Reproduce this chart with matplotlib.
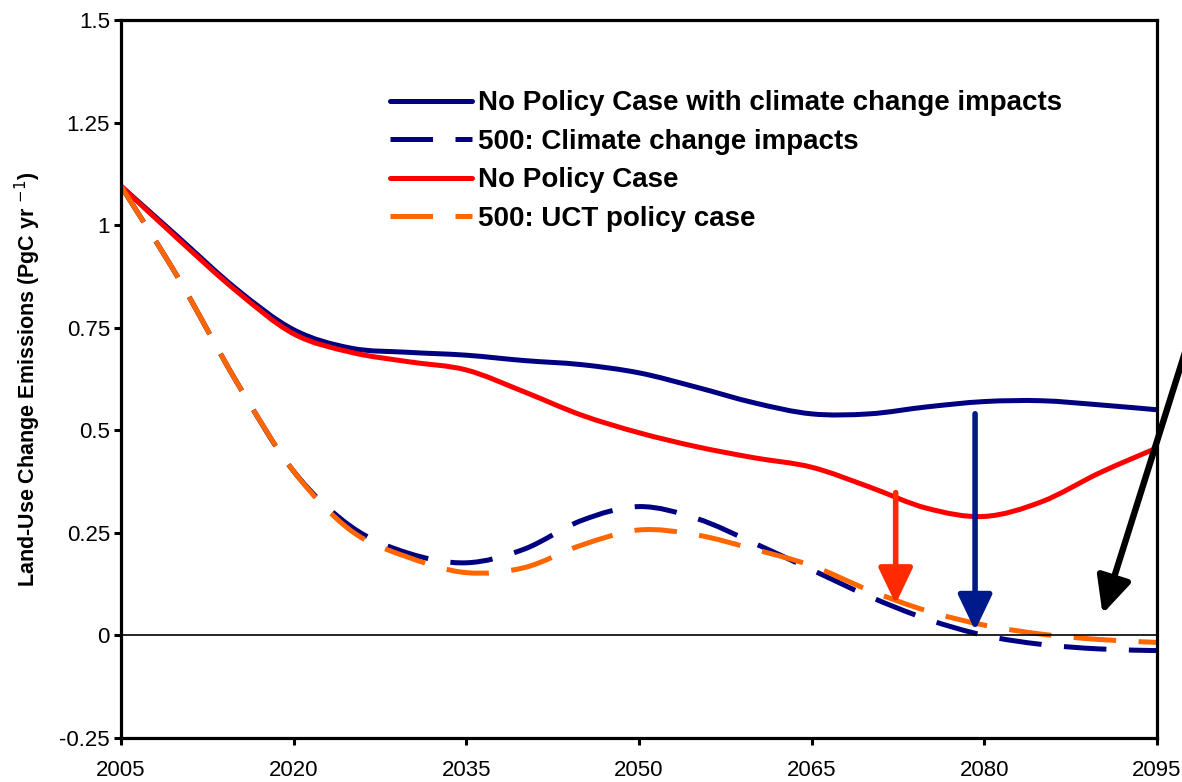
import matplotlib
matplotlib.use("Agg")
import matplotlib.pyplot as plt
import numpy as np
from matplotlib.path import Path
from matplotlib.patches import PathPatch
from matplotlib.lines import Line2D

# ---------- DATA ----------
years = [2005, 2010, 2015, 2020, 2025, 2030, 2035, 2040, 2045, 2050,
         2055, 2060, 2065, 2070, 2075, 2080, 2085, 2090, 2095]

no_policy_cc = [1.095, 0.97, 0.845, 0.745, 0.70, 0.69, 0.683, 0.67, 0.66, 0.64,
                0.605, 0.567, 0.54, 0.54, 0.557, 0.570, 0.572, 0.562, 0.55]
cc_500 = [1.095, 0.87, 0.62, 0.40, 0.265, 0.20, 0.177, 0.21, 0.28, 0.314,
          0.285, 0.225, 0.16, 0.095, 0.04, 0.0, -0.022, -0.033, -0.037]
no_policy = [1.095, 0.965, 0.84, 0.735, 0.69, 0.667, 0.647, 0.594, 0.537, 0.494,
             0.46, 0.433, 0.41, 0.362, 0.31, 0.29, 0.326, 0.396, 0.457]
uct_500 = [1.095, 0.87, 0.62, 0.40, 0.255, 0.19, 0.153, 0.165, 0.22, 0.257,
           0.245, 0.21, 0.17, 0.11, 0.06, 0.025, 0.003, -0.01, -0.017]

labels = ["No Policy Case with climate change impacts",
          "500: Climate change impacts",
          "No Policy Case",
          "500: UCT policy case"]

xticks = [2005, 2020, 2035, 2050, 2065, 2080, 2095]
yticks = [-0.25, 0, 0.25, 0.5, 0.75, 1, 1.25, 1.5]
ytick_labels = ["-0.25", "0", "0.25", "0.5", "0.75", "1", "1.25", "1.5"]

plt.rcParams["font.family"] = ["Liberation Sans", "DejaVu Sans"]

NAVY = "#000080"
RED = "#FF0000"
ORANGE = "#FF6600"
LW = 3.6
DASH = (0, (8.5, 4.5))


def smooth_path(x, y):
    # excel-style smoothed line: catmull-rom segments drawn as cubic beziers
    pts = np.column_stack([x, y]).astype(float)
    n = len(pts)
    verts = [pts[0]]
    codes = [Path.MOVETO]
    for i in range(n - 1):
        p0 = pts[i - 1] if i > 0 else pts[i]
        p1, p2 = pts[i], pts[i + 1]
        p3 = pts[i + 2] if i + 2 < n else pts[i + 1]
        c1 = p1 + (p2 - p0) / 6
        c2 = p2 - (p3 - p1) / 6
        verts += [c1, c2, p2]
        codes += [Path.CURVE4] * 3
    return Path(verts, codes)


fig = plt.figure(figsize=(11.82, 7.82), dpi=100)
ax = fig.add_axes([0.1024, 0.0563, 0.8764, 0.9181])

series = [(no_policy_cc, NAVY, "-"), (cc_500, NAVY, DASH),
          (no_policy, RED, "-"), (uct_500, ORANGE, DASH)]
handles = []
for vals, col, ls in series:
    patch = PathPatch(smooth_path(years, vals), facecolor="none", edgecolor=col,
                      lw=LW, linestyle=ls, capstyle="butt", joinstyle="round")
    ax.add_patch(patch)
    handles.append(Line2D([], [], color=col, lw=LW, linestyle=ls,
                          solid_capstyle="round", dash_capstyle="butt"))

ax.axhline(0, color="black", lw=1.2, zorder=1)

# arrows
head = "-|>,head_length=2.2,head_width=1.05"
ax.annotate("", xy=(2072.3, 0.07), xytext=(2072.3, 0.355),
            arrowprops=dict(arrowstyle=head, color="#FF2A00", lw=4))
ax.annotate("", xy=(2079.2, 0.005), xytext=(2079.2, 0.547),
            arrowprops=dict(arrowstyle=head, color="#001A8C", lw=4))
ax.annotate("", xy=(2090.2, 0.046), xytext=(2099.8, 0.90),
            arrowprops=dict(arrowstyle=head, color="black", lw=4.6),
            annotation_clip=False)

ax.set_xlim(2005, 2095)
ax.set_ylim(-0.25, 1.5)
ax.set_xticks(xticks)
ax.set_xticklabels([str(x) for x in xticks])
ax.set_yticks(yticks)
ax.set_yticklabels(ytick_labels)
ax.tick_params(axis="both", direction="out", length=5, width=2.2,
               labelsize=16, pad=3)
ax.tick_params(axis="x", pad=11)
for s in ax.spines.values():
    s.set_linewidth(2.3)

ax.set_ylabel("Land-Use Change Emissions (PgC yr $^{-1}$)", fontsize=15.5,
              fontweight="bold", labelpad=12)

ax.legend(handles, labels, loc="upper left", bbox_to_anchor=(0.26, 0.902),
          frameon=False, prop={"weight": "bold", "size": 20},
          handlelength=2.95, handletextpad=0.2, labelspacing=0.45,
          borderpad=0, borderaxespad=0)

fig.savefig("out.png", dpi=100)
